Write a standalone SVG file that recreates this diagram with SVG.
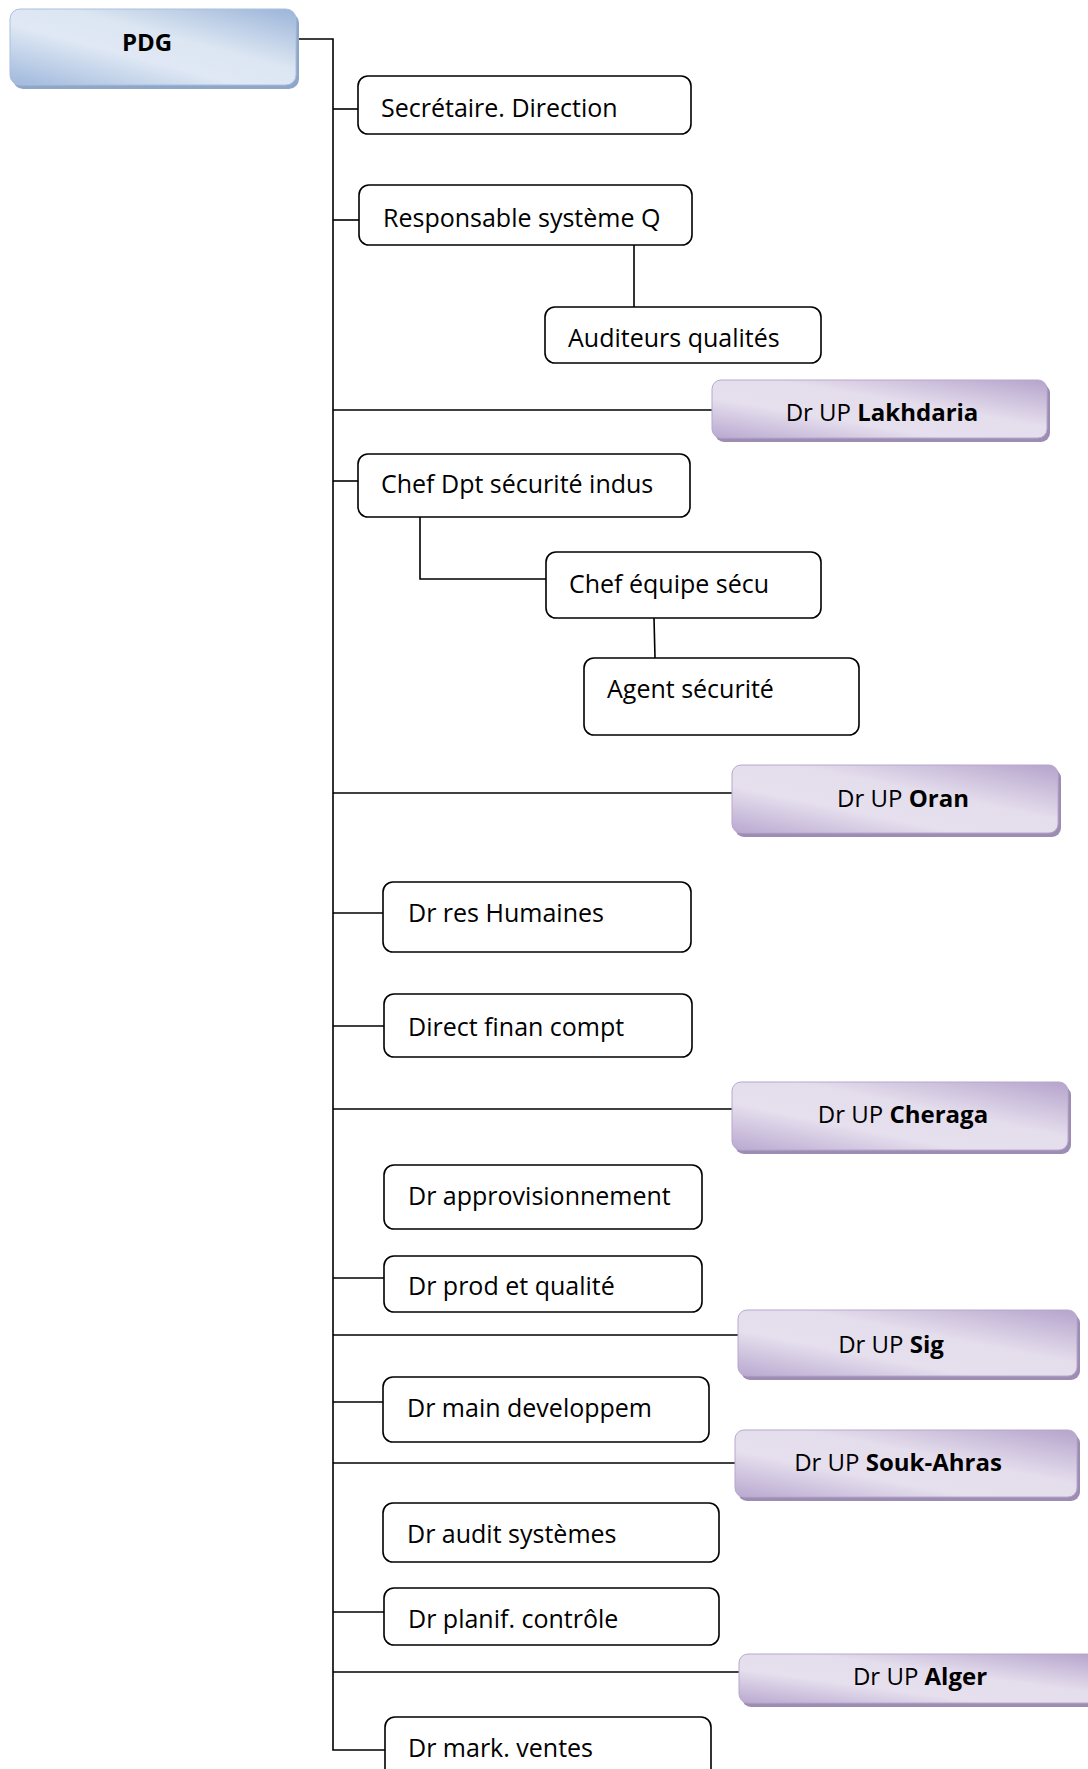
<svg xmlns="http://www.w3.org/2000/svg" width="1088" height="1769" viewBox="0 0 1088 1769">
  <style>
    .box { fill: #ffffff; stroke: #000000; stroke-width: 1.6; }
    .lbl { font-family: "Open Sans", "Noto Sans", "Liberation Sans", sans-serif; font-size: 25px; fill: #000000; }
    .unit { font-family: "Open Sans", "Noto Sans", "Liberation Sans", sans-serif; font-size: 24px; fill: #000000; text-anchor: middle; }
    .unit tspan.b { font-weight: bold; }
    .head { font-family: "Open Sans", "Noto Sans", "Liberation Sans", sans-serif; font-size: 24px; font-weight: bold; fill: #000000; text-anchor: middle; }
    .wire { fill: none; stroke: #000000; stroke-width: 1.6; }
    .pshadow { fill: #9d8db2; }
    .bshadow { fill: #8ea6c8; }
    .pbox { fill: url(#purpleFill); stroke: #b7a8cc; stroke-width: 1; }
    .bbox { fill: url(#blueFill); stroke: #a9c0de; stroke-width: 1; }
  </style>
  <defs>
    <linearGradient id="purpleFill" x1="0" y1="1" x2="1" y2="0">
      <stop offset="0" stop-color="#b9a8d0"/>
      <stop offset="0.35" stop-color="#e6e0ee"/>
      <stop offset="0.6" stop-color="#e4ddec"/>
      <stop offset="1" stop-color="#b5a3cc"/>
    </linearGradient>
    <linearGradient id="blueFill" x1="0" y1="1" x2="1" y2="0">
      <stop offset="0" stop-color="#9fb8dc"/>
      <stop offset="0.4" stop-color="#dfe8f4"/>
      <stop offset="0.6" stop-color="#dce6f2"/>
      <stop offset="1" stop-color="#9bb4d9"/>
    </linearGradient>
  </defs>

  <rect width="1088" height="1769" fill="#ffffff"/>

  <!-- connectors -->
  <g id="connectors">
    <!-- trunk from the head node -->
    <path class="wire" d="M296,39 H333 V1750 H385"/>
    <path class="wire" d="M333,109 H358"/>
    <path class="wire" d="M333,220 H359"/>
    <path class="wire" d="M333,410 H712"/>
    <path class="wire" d="M333,481 H358"/>
    <path class="wire" d="M333,793 H732"/>
    <path class="wire" d="M333,913 H383"/>
    <path class="wire" d="M333,1026 H384"/>
    <path class="wire" d="M333,1109 H732"/>
    <path class="wire" d="M333,1278 H384"/>
    <path class="wire" d="M333,1335 H738"/>
    <path class="wire" d="M333,1402 H383"/>
    <path class="wire" d="M333,1463 H735"/>
    <path class="wire" d="M333,1612 H384"/>
    <path class="wire" d="M333,1672 H739"/>
    <!-- sub-branches -->
    <path class="wire" d="M634,245 V307"/>
    <path class="wire" d="M420,517 V579 H546"/>
    <path class="wire" d="M654,618 L655,658"/>
  </g>

  <!-- head node -->
  <g id="pdg">
    <rect class="bshadow" x="13" y="13" width="286" height="76" rx="10"/>
    <rect class="bbox" x="10" y="9" width="286" height="76" rx="10"/>
    <text class="head" x="147" y="51">PDG</text>
  </g>

  <g id="secretaire">
    <rect class="box" x="358" y="76" width="333" height="58" rx="10"/>
    <text class="lbl" x="381" y="117">Secrétaire. Direction</text>
  </g>

  <g id="resp-systeme-q">
    <rect class="box" x="359" y="185" width="333" height="60" rx="10"/>
    <text class="lbl" x="383" y="227">Responsable système Q</text>
  </g>

  <g id="auditeurs">
    <rect class="box" x="545" y="307" width="276" height="56" rx="10"/>
    <text class="lbl" x="568" y="347">Auditeurs qualités</text>
  </g>

  <g id="up-lakhdaria">
    <rect class="pshadow" x="715" y="384" width="335" height="58" rx="9"/>
    <rect class="pbox" x="712" y="380" width="335" height="58" rx="9"/>
    <text class="unit" x="882" y="421">Dr UP <tspan class="b">Lakhdaria</tspan></text>
  </g>

  <g id="chef-dpt-securite">
    <rect class="box" x="358" y="454" width="332" height="63" rx="10"/>
    <text class="lbl" x="381" y="493">Chef Dpt sécurité indus</text>
  </g>

  <g id="chef-equipe-secu">
    <rect class="box" x="546" y="552" width="275" height="66" rx="10"/>
    <text class="lbl" x="569" y="593">Chef équipe sécu</text>
  </g>

  <g id="agent-securite">
    <rect class="box" x="584" y="658" width="275" height="77" rx="10"/>
    <text class="lbl" x="607" y="698">Agent sécurité</text>
  </g>

  <g id="up-oran">
    <rect class="pshadow" x="735" y="769" width="326" height="68" rx="9"/>
    <rect class="pbox" x="732" y="765" width="326" height="68" rx="9"/>
    <text class="unit" x="903" y="807">Dr UP <tspan class="b">Oran</tspan></text>
  </g>

  <g id="dr-rh">
    <rect class="box" x="383" y="882" width="308" height="70" rx="10"/>
    <text class="lbl" x="408" y="922">Dr res Humaines</text>
  </g>

  <g id="direct-finan">
    <rect class="box" x="384" y="994" width="308" height="63" rx="10"/>
    <text class="lbl" x="408" y="1036">Direct finan compt</text>
  </g>

  <g id="up-cheraga">
    <rect class="pshadow" x="735" y="1086" width="336" height="68" rx="9"/>
    <rect class="pbox" x="732" y="1082" width="336" height="68" rx="9"/>
    <text class="unit" x="903" y="1123">Dr UP <tspan class="b">Cheraga</tspan></text>
  </g>

  <g id="dr-approvisionnement">
    <rect class="box" x="384" y="1165" width="318" height="64" rx="10"/>
    <text class="lbl" x="408" y="1205">Dr approvisionnement</text>
  </g>

  <g id="dr-prod-qualite">
    <rect class="box" x="384" y="1256" width="318" height="56" rx="10"/>
    <text class="lbl" x="408" y="1295">Dr prod et qualité</text>
  </g>

  <g id="up-sig">
    <rect class="pshadow" x="741" y="1314" width="339" height="66" rx="9"/>
    <rect class="pbox" x="738" y="1310" width="339" height="66" rx="9"/>
    <text class="unit" x="891" y="1353">Dr UP <tspan class="b">Sig</tspan></text>
  </g>

  <g id="dr-main-developpem">
    <rect class="box" x="383" y="1377" width="326" height="65" rx="10"/>
    <text class="lbl" x="407" y="1417">Dr main developpem</text>
  </g>

  <g id="up-souk-ahras">
    <rect class="pshadow" x="738" y="1434" width="342" height="67" rx="9"/>
    <rect class="pbox" x="735" y="1430" width="342" height="67" rx="9"/>
    <text class="unit" x="898" y="1471">Dr UP <tspan class="b">Souk-Ahras</tspan></text>
  </g>

  <g id="dr-audit-systemes">
    <rect class="box" x="383" y="1503" width="336" height="59" rx="10"/>
    <text class="lbl" x="407" y="1543">Dr audit systèmes</text>
  </g>

  <g id="dr-planif-controle">
    <rect class="box" x="384" y="1588" width="335" height="57" rx="10"/>
    <text class="lbl" x="408" y="1628">Dr planif. contrôle</text>
  </g>

  <g id="up-alger">
    <rect class="pshadow" x="742" y="1658" width="360" height="49" rx="9"/>
    <rect class="pbox" x="739" y="1654" width="360" height="49" rx="9"/>
    <text class="unit" x="920" y="1685">Dr UP <tspan class="b">Alger</tspan></text>
  </g>

  <g id="dr-mark-ventes">
    <rect class="box" x="385" y="1717" width="326" height="70" rx="10"/>
    <text class="lbl" x="408" y="1757">Dr mark. ventes</text>
  </g>
</svg>
